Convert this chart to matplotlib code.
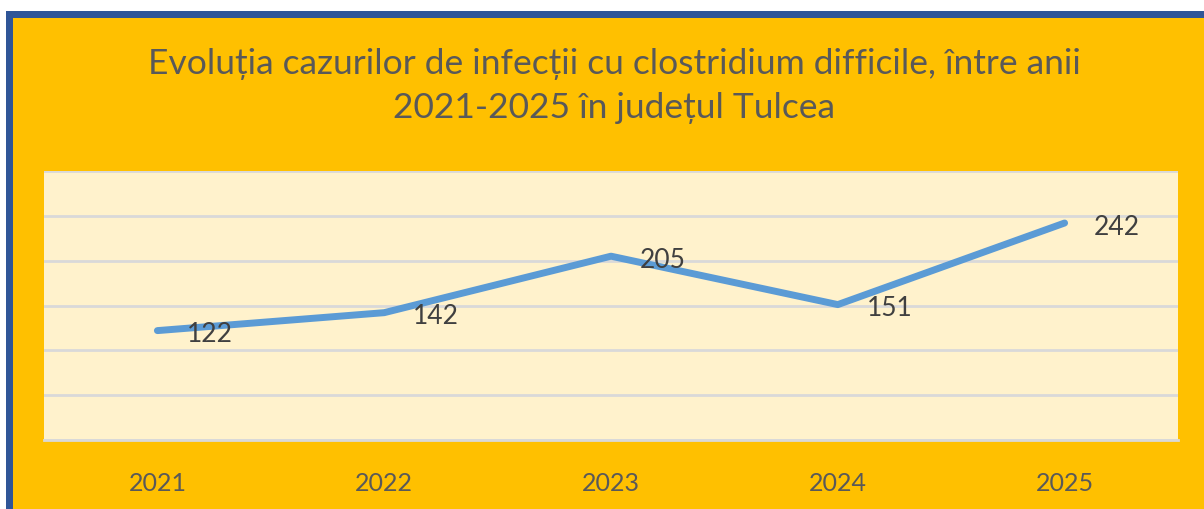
import matplotlib.pyplot as plt
from matplotlib.patches import Rectangle

years  = ["2021", "2022", "2023", "2024", "2025"]
cazuri = [122, 142, 205, 151, 242]

title = "Evoluția cazurilor de infecții cu clostridium difficile, între anii\n2021-2025 în județul Tulcea"

W, H = 1204, 510


def px_box(x0, y0, x1, y1):
    # - convert pixel box (top-left origin) to figure fractions
    return [x0 / W, 1 - y1 / H, (x1 - x0) / W, (y1 - y0) / H]


def main():
    plt.rcParams['font.family'] = ['Lato', 'DejaVu Sans']

    fig = plt.figure(figsize=(W / 100, H / 100), dpi=100)
    fig.patch.set_facecolor("white")

    # - blue frame and orange chart area
    fig.patches.append(Rectangle((6 / W, 0), 1, 1 - 12 / H, transform=fig.transFigure,
                                 facecolor="#2F5597", edgecolor="none", zorder=-3))
    fig.patches.append(Rectangle((13 / W, 0), 1, 1 - 19 / H, transform=fig.transFigure,
                                 facecolor="#FFC000", edgecolor="none", zorder=-2))

    fig.text(614 / W, 1 - 86 / H, title, ha="center", va="center", fontsize=25.5,
             color="#595959", linespacing=1.5)

    ax = fig.add_axes(px_box(44, 172, 1178, 441))
    ax.set_zorder(1)
    ax.set_facecolor("#FFF2CC")

    x = list(range(len(years)))
    ax.plot(x, cazuri, color="#5B9BD5", linewidth=5, solid_capstyle="round", zorder=3)

    for xi, val in zip(x, cazuri):
        ax.annotate(str(val), (xi, val), xytext=(29, -3), textcoords="offset pixels",
                    ha="left", va="center", fontsize=19, color="#404040", zorder=4)

    ax.set_xlim(-0.5, len(years) - 0.5)
    ax.set_ylim(0, 300)
    ax.set_yticks(range(0, 301, 50))
    ax.set_xticks(x)
    ax.set_xticklabels(years, fontsize=18, color="#595959")
    ax.tick_params(axis="y", left=False, labelleft=False)
    ax.tick_params(axis="x", length=0, pad=22)
    ax.grid(axis="y", color="#D9D9D9", linewidth=2)
    for side in ["left", "right", "top"]:
        ax.spines[side].set_visible(False)
    ax.spines["bottom"].set_color("#D9D9D9")
    ax.spines["bottom"].set_linewidth(2)

    fig.savefig("out.png", dpi=100)


if __name__ == "__main__":
    main()
